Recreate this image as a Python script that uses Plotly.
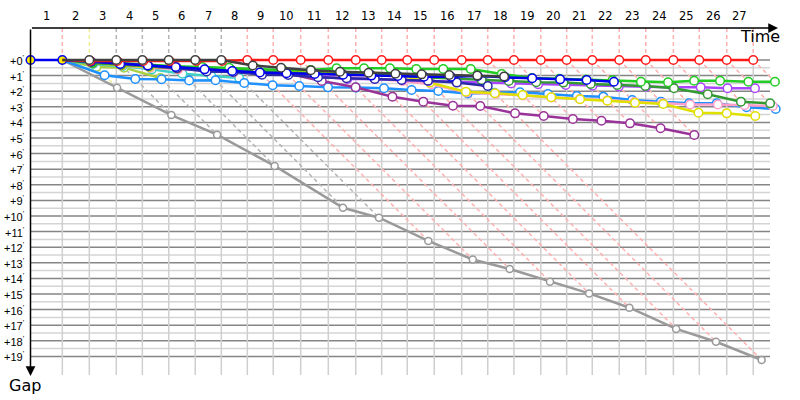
import plotly.graph_objects as go

# ---------------- data ----------------
laps = list(range(1, 28))
# leader's cumulative race time at the end of each lap (same unit as the gap)
leader_time = [2.04, 3.77, 5.50, 7.17, 8.86, 10.56, 12.23, 13.90, 15.56, 17.32,
               19.09, 20.85, 22.51, 24.15, 25.88, 27.64, 29.31, 30.99, 32.71, 34.37,
               36.01, 37.74, 39.44, 41.21, 42.87, 44.63, 46.33]
# colour of the lap marks (vertical tick + diagonal) for each lap
lap_mark_color = ["#ffb0b0", "#eeee99"] + ["#b4b4b4"] * 5 + ["#ffb0b0"] * 20

# gaps per lap, starting with lap 1
gap_red = [0, 0.06, 0.06, 0.06, 0.06, 0.06, 0.06] + [0] * 20
gap_black = [0, 0, 0, 0, 0, 0, 0, 0.35, 0.5, 0.65, 0.75, 0.82, 0.88, 0.92, 0.96, 1.0, 1.05]
gap_green = [0, 0.15, 0.2, 0.3, 0.4, 0.45, 0.5, 0.55, 0.64, 0.64, 0.53, 0.53, 0.53, 0.58,
             0.58, 0.58, 0.9, 1.15, 1.2, 1.25, 1.3, 1.39, 1.43, 1.33, 1.33, 1.39, 1.39]
gap_darkgreen = [0, 0.2, 0.3, 0.4, 0.5, 0.55, 0.6, 0.7, 0.8, 0.85, 0.9, 0.95, 1.0, 1.1,
                 1.2, 1.28, 1.35, 1.43, 1.45, 1.54, 1.6, 1.67, 1.81, 2.2, 2.67, 2.78]
gap_blue = [0, 0.1, 0.25, 0.35, 0.45, 0.6, 0.7, 0.8, 0.85, 0.9, 0.95, 1.0, 1.03, 1.07,
            1.07, 1.03, 1.11, 1.17, 1.24, 1.28, 1.39]
gap_navy = [0, 0.1, 0.2, 0.34, 0.51, 0.73, 0.77, 0.94, 0.96, 1.11, 1.17, 1.22, 1.28,
            1.33, 1.45, 1.67]
gap_purple = [0, 0.15, 0.3, 0.4, 0.55, 0.65, 0.75, 0.8, 0.85, 1.35, 1.75, 2.35, 2.67,
              2.93, 2.95, 3.42, 3.59, 3.78, 3.89, 4.06, 4.38, 4.81]
gap_violet = [0, 0.1, 0.25, 0.34, 0.45, 0.55, 0.65, 0.75, 0.9, 1.05, 1.22, 1.22, 1.3,
              1.35, 1.4, 1.45, 1.5, 1.55, 1.6, 1.65, 1.7, 1.72, 1.74, 1.75, 1.81, 1.81]
gap_pink = [0, 0.2, 0.35, 0.5, 0.6, 0.7, 0.8, 0.85, 0.9, 1.0, 1.1, 1.2, 1.35, 1.55,
            2.08, 2.17, 2.27, 2.4, 2.5, 2.6, 2.7, 2.78, 2.85, 2.85, 2.9, 2.95]
gap_yellow = [0, 0.2, 0.35, 0.45, 0.55, 0.6, 0.65, 0.7, 0.72, 0.74, 0.75, 0.8, 0.9,
              1.45, 2.03, 2.13, 2.24, 2.39, 2.52, 2.61, 2.74, 2.82, 3.38, 3.42, 3.59]
gap_lightblue = [0, 0.98, 1.22, 1.23, 1.31, 1.30, 1.47, 1.62, 1.67, 1.75, 1.77, 1.81,
                 1.92, 1.99, 2.14, 2.1, 2.07, 2.18, 2.31, 2.35, 2.56, 2.67, 2.78, 2.78,
                 3.03, 3.14]
gap_cyan = [0, 0.25, 0.4, 0.6, 0.88, 1.03, 1.15]
gap_olive = [0, 0.45, 0.49, 1.15]
gap_grey = [0, 1.78, 3.53, 4.79, 6.79, 9.47, 10.11, 11.6, 12.79, 13.4, 14.21, 14.96,
            15.88, 17.24, 18.06, 19.23]

gap_ticks = list(range(0, 20))
gap_tick_labels = ["+%d<sup>'</sup>" % k for k in gap_ticks]

# drawing order (first = bottom)
series = [
    ("grey", gap_grey, "#9a9a9a"),
    ("olive", gap_olive, "#a8d040"),
    ("cyan", gap_cyan, "#40d0c8"),
    ("lightblue", gap_lightblue, "#1e90ff"),
    ("pink", gap_pink, "#ff9ec8"),
    ("yellow", gap_yellow, "#e0e000"),
    ("purple", gap_purple, "#993399"),
    ("violet", gap_violet, "#aa44ff"),
    ("darkgreen", gap_darkgreen, "#339933"),
    ("green", gap_green, "#22cc22"),
    ("navy", gap_navy, "#2a2aa8"),
    ("blue", gap_blue, "#0000ee"),
    ("red", gap_red, "#ff1a1a"),
    ("black", gap_black, "#404040"),
]

# ---------------- geometry helpers (pixel mapping) ----------------
PX = 15.6          # pixels per unit on both axes
X0, Y0 = 30.5, 60  # pixel of time 0 / gap 0
def tx(px):
    return (px - X0) / PX
def gy(py):
    return (py - Y0) / PX

fig = go.Figure()
shapes = []
annotations = []

x_right_grid = tx(770)
# horizontal grid lines
for k in gap_ticks:
    shapes.append(dict(type="line", xref="x", yref="y", x0=0, x1=x_right_grid, y0=k, y1=k,
                       line=dict(color="#858585", width=1.5), layer="below"))
    if k < gap_ticks[-1]:
        shapes.append(dict(type="line", xref="x", yref="y", x0=0, x1=x_right_grid,
                           y0=k + 0.5, y1=k + 0.5,
                           line=dict(color="#d4d4d4", width=1.5), layer="below"))
# vertical lap lines
for i, t in enumerate(leader_time):
    shapes.append(dict(type="line", xref="x", yref="y", x0=t, x1=t, y0=0, y1=gy(375),
                       line=dict(color="#cfcfcf", width=1.5), layer="below"))
    shapes.append(dict(type="line", xref="x", yref="y", x0=t, x1=t, y0=gy(28), y1=0,
                       line=dict(color=lap_mark_color[i], width=1.5, dash="4px,3px"),
                       layer="below"))

# diagonal lines: from the leader to the last car of each lap
for i, t in enumerate(leader_time):
    lap_idx = i  # index into the gap lists (lap 1 -> 0)
    gmax = 0
    for _, g, _c in series:
        if lap_idx < len(g):
            gmax = max(gmax, g[lap_idx])
    if gmax > 0:
        shapes.append(dict(type="line", xref="x", yref="y", x0=t, y0=0, x1=t + gmax, y1=gmax,
                           line=dict(color=lap_mark_color[i], width=1.5, dash="4px,3px"),
                           layer="below"))

# series
for name, g, col in series:
    xs = [leader_time[i] + g[i] for i in range(len(g))]
    ys = list(g)
    msz = 7 if name == "grey" else 8.5
    sizes = [0] + [msz] * (len(g) - 1)
    fills = ["#ffffff"] * len(g)
    if name == "blue":
        xs = [0] + xs
        ys = [0] + ys
        sizes = [8.5, 8.5] + [msz] * (len(g) - 1)
        fills = ["#ffee00", "#ffee00"] + ["#ffffff"] * (len(g) - 1)
    fig.add_trace(go.Scatter(
        x=xs, y=ys, mode="lines+markers", name=name,
        line=dict(color=col, width=2.5),
        marker=dict(symbol="circle", size=sizes, color=fills, opacity=1,
                    line=dict(color=col, width=1.5)),
        cliponaxis=False, hoverinfo="skip", showlegend=False))

# axes (arrows)
annotations.append(dict(x=tx(778), y=gy(28), ax=0, ay=gy(28), xref="x", yref="y",
                        axref="x", ayref="y", showarrow=True, arrowhead=2, arrowsize=1.3,
                        arrowwidth=1.5, arrowcolor="black", text=""))
annotations.append(dict(x=0, y=gy(376), ax=0, ay=gy(28), xref="x", yref="y",
                        axref="x", ayref="y", showarrow=True, arrowhead=2, arrowsize=1.3,
                        arrowwidth=1.5, arrowcolor="black", text=""))
annotations.append(dict(x=tx(760), y=gy(36), text="Time", showarrow=False,
                        font=dict(family="DejaVu Sans", size=16, color="black"),
                        xref="x", yref="y"))
annotations.append(dict(x=tx(25), y=gy(385), text="Gap", showarrow=False,
                        font=dict(family="DejaVu Sans", size=16, color="black"),
                        xref="x", yref="y"))

# lap labels
prev = 0
for lap, t in zip(laps, leader_time):
    annotations.append(dict(x=(prev + t) / 2, y=gy(16), text=str(lap), showarrow=False,
                            font=dict(family="DejaVu Sans", size=11.5, color="black"),
                            xref="x", yref="y"))
    prev = t

# gap labels
for k, lab in zip(gap_ticks, gap_tick_labels):
    annotations.append(dict(x=tx(27), y=k, text=lab, showarrow=False,
                            xanchor="right",
                            font=dict(family="Liberation Sans", size=11, color="black"),
                            xref="x", yref="y"))

fig.update_layout(
    width=800, height=400,
    margin=dict(l=0, r=0, t=0, b=0),
    paper_bgcolor="white", plot_bgcolor="white",
    xaxis=dict(range=[tx(0), tx(800)], visible=False, fixedrange=True),
    yaxis=dict(range=[gy(400), gy(0)], visible=False, fixedrange=True),
    shapes=shapes, annotations=annotations, showlegend=False,
)

fig.write_html("out.html", config={"displayModeBar": False},
               post_script="document.body.style.margin='0px';document.body.style.overflow='hidden';")
